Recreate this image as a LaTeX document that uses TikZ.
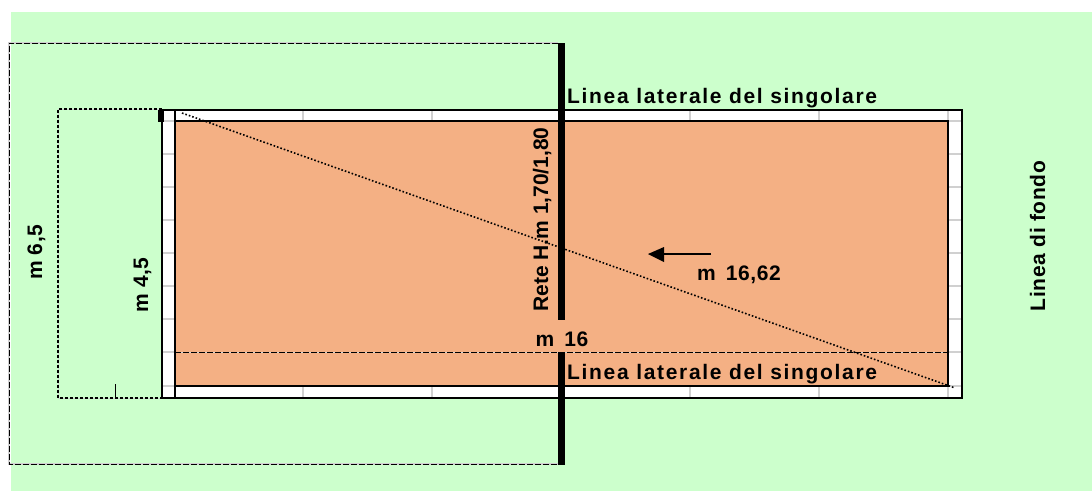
\documentclass[tikz,border=0pt]{standalone}
\usepackage{fontspec}
\setmainfont{Liberation Sans}
\definecolor{campo}{RGB}{204,255,204}
\definecolor{terra}{RGB}{244,176,132}
\definecolor{griglia}{RGB}{208,208,208}
\newcommand{\spaziato}[2]{{\addfontfeature{LetterSpace=#1}#2}}
\tikzset{
    etichetta/.style={font=\bfseries\fontsize{21}{24}\selectfont, inner sep=0pt, anchor=base},
    bordo/.style={line width=2.6pt},
    tratteggio/.style={line width=1pt, dash pattern=on 6pt off 2pt, preaction={draw=griglia,solid,line width=1.4pt}},
    fitto/.style={line width=1.3pt, dash pattern=on 3pt off 2pt, preaction={draw=griglia,solid}},
    mezzeria/.style={line width=1.9pt, dash pattern=on 6pt off 2pt, preaction={draw=griglia,solid}},
    rete/.style={line width=7pt},
}
\begin{document}
\begin{tikzpicture}[x=1pt,y=-1pt] %Campo con corsie
    \useasboundingbox (0,0) rectangle (1092,491);
    \fill[campo] (11,12) rectangle (1092,491);

    \coordinate (A) at (162,110);
    \coordinate (B) at (962,398);
    \coordinate (C) at (175,121);
    \coordinate (D) at (948,386);

    \fill[white] (A) rectangle (B);
    %griglia
    \foreach \y in {121,154,187,220,253,286,319,352,386} {
        \draw[griglia,line width=1.5pt] (162,\y) -- (175,\y);
        \draw[griglia,line width=1.5pt] (948,\y) -- (962,\y);
    }
    \foreach \x in {303,432,690,819,948} {
        \draw[griglia,line width=2pt] (\x,110) -- (\x,121);
        \draw[griglia,line width=2pt] (\x,386) -- (\x,398);
    }
    \fill[terra] (C) rectangle (D);
    \draw[bordo] (A) rectangle (B);
    \draw[bordo] (C) rectangle (D);
    \draw[bordo] (175,110) -- (C);
    \draw[bordo] (175,386) -- (175,398);

    %corridoi tratteggiati
    \draw[tratteggio] (558,43) -- (9,43) -- (9,464) -- (558,464);
    \draw[fitto] (162,109) -- (58,109) -- (58,398) -- (162,398);
    \draw[line width=1.8pt] (115.5,384) -- (115.5,398);
    \draw[mezzeria] (C |- 0,352.5) -- (D |- 0,352.5);
    \fill (158,110) rectangle (164,122);

    %rete
    \draw[rete] (561.5,43) -- (561.5,320);
    \draw[rete] (561.5,352) -- (561.5,465);

    \coordinate (E) at (182,113);
    \coordinate (F) at (955,388);
    \draw[line width=1.6pt, dash pattern=on 1.6pt off 2pt] (E) -- (F);

    \coordinate (G) at (711,254);
    \coordinate (H) at (648,254);
    \draw[line width=1.3pt] (G) -- (662,254);
    \fill (H) -- (664,247) -- (664,262) -- cycle;

    \node[etichetta, anchor=base west] (sopra) at (567,103) {\spaziato{8}{Linea laterale del singolare}};
    \node[etichetta, anchor=base west] (sotto) at (567,379) {\spaziato{8}{Linea laterale del singolare}};
    \node[etichetta, rotate=90] (rete) at (548,219.5) {Rete H.m 1,70/1,80};
    \node[etichetta, rotate=90] (fondo) at (1045,236) {\spaziato{3}{Linea di fondo}};
    \node[etichetta, rotate=90] (largo) at (42,252.5) {\spaziato{2}{m 6,5}};
    \node[etichetta, rotate=90] (stretto) at (148,285) {\spaziato{2}{m 4,5}};
    \node[etichetta] (lungo) at (562,346) {\spaziato{3}{m\, 16}};
    \node[etichetta] (diag) at (739,280) {\spaziato{3}{m\, 16,62}};
\end{tikzpicture}
\end{document}
